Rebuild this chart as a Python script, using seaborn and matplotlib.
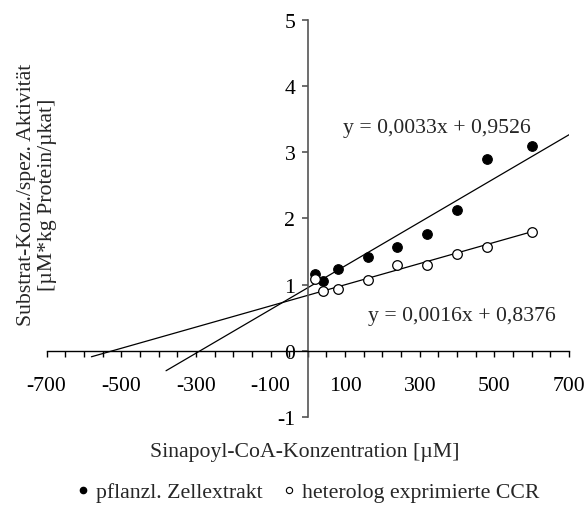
import matplotlib
matplotlib.use("Agg")
import matplotlib.pyplot as plt
from matplotlib.ticker import MultipleLocator, FixedLocator
from matplotlib.lines import Line2D
import seaborn as sns
import numpy as np
import pandas as pd

# ---- data ----
conc = [20, 40, 80, 160, 240, 320, 400, 480, 600]
zellextrakt = [1.16, 1.06, 1.23, 1.41, 1.56, 1.76, 2.13, 2.90, 3.09]
ccr = [1.08, 0.91, 0.93, 1.07, 1.29, 1.30, 1.46, 1.57, 1.80]
series_names = ["pflanzl. Zellextrakt", "heterolog exprimierte CCR"]
trend_slopes = [0.0033, 0.0016]
trend_intercepts = [0.9526, 0.8376]
trend_x_ranges = [[-380, 700], [-580, 600]]
trend_labels = ["y = 0,0033x + 0,9526", "y = 0,0016x + 0,8376"]
xtick_labels = [-700, -500, -300, -100, 100, 300, 500, 700]
ytick_labels = [-1, 0, 1, 2, 3, 4, 5]

sns.set_theme(style="white")
plt.rcParams['font.family'] = ['Liberation Serif', 'DejaVu Serif']
FS = 15.7

df = pd.DataFrame({
    "x": conc * 2,
    "y": zellextrakt + ccr,
    "serie": [series_names[0]] * len(conc) + [series_names[1]] * len(conc),
})

fig = plt.figure(figsize=(5.85, 5.06), dpi=100)
ax = fig.add_axes([0.0797, 0.1739, 0.8930, 0.7852])

# trend lines
for m, b, xr in zip(trend_slopes, trend_intercepts, trend_x_ranges):
    xs = np.array(xr, dtype=float)
    sns.lineplot(x=xs, y=m * xs + b, ax=ax, color="black", linewidth=0.9,
                 zorder=2, legend=False)

sns.scatterplot(data=df[df.serie == series_names[0]], x="x", y="y", ax=ax,
                color="black", edgecolor="black", s=48, linewidth=0.8,
                zorder=3, legend=False)
sns.scatterplot(data=df[df.serie == series_names[1]], x="x", y="y", ax=ax,
                color="white", edgecolor="black", s=48, linewidth=0.9,
                zorder=3, legend=False)

ax.set_xlim(-700, 700)
ax.set_ylim(-1, 5)
ax.set_xlabel("")
ax.set_ylabel("")

for s in ["top", "right"]:
    ax.spines[s].set_visible(False)
ax.spines["left"].set_position(("data", 0))
ax.spines["bottom"].set_position(("data", 0))
ax.spines["left"].set_color("#555555")
ax.spines["left"].set_linewidth(1.2)
ax.spines["bottom"].set_color("black")
ax.spines["bottom"].set_linewidth(1.0)

ax.xaxis.set_major_locator(FixedLocator(xtick_labels))
ax.xaxis.set_minor_locator(MultipleLocator(50))
ax.set_xticklabels([str(v) for v in xtick_labels])
ax.yaxis.set_major_locator(FixedLocator(ytick_labels))
ax.set_yticklabels([str(v) for v in ytick_labels])

ax.tick_params(axis="x", which="both", direction="out", length=4, width=1.0,
               color="black", bottom=True, labelsize=FS, pad=14)
ax.tick_params(axis="y", which="both", direction="out", length=4, width=1.2,
               color="#555555", left=True, labelsize=FS, pad=5)
for lbl in ax.get_xticklabels() + ax.get_yticklabels():
    lbl.set_color("black")

# equations
ax.text(346, 3.31, trend_labels[0], ha="center", va="baseline", fontsize=FS)
ax.text(414, 0.47, trend_labels[1], ha="center", va="baseline", fontsize=FS)

fig.text(37 / 585, 1 - 195 / 506,
         "Substrat-Konz./spez. Aktivität\n[µM*kg Protein/µkat]",
         rotation=90, ha="center", va="center", multialignment="center",
         fontsize=FS, linespacing=1.1)
fig.text(305 / 585, 1 - 453 / 506, "Sinapoyl-CoA-Konzentration [µM]",
         ha="center", va="center", fontsize=FS)

handles = [
    Line2D([], [], marker="o", linestyle="none", markerfacecolor="black",
           markeredgecolor="black", markersize=4.5),
    Line2D([], [], marker="o", linestyle="none", markerfacecolor="white",
           markeredgecolor="black", markersize=4.5, markeredgewidth=0.8),
]
fig.legend(handles, series_names, loc="center", bbox_to_anchor=(308 / 585, 1 - 493 / 506),
           ncol=2, frameon=False, fontsize=FS, handlelength=0.6,
           handletextpad=0.3, columnspacing=0.9, borderpad=0, borderaxespad=0)

fig.savefig("out.png", dpi=100)
